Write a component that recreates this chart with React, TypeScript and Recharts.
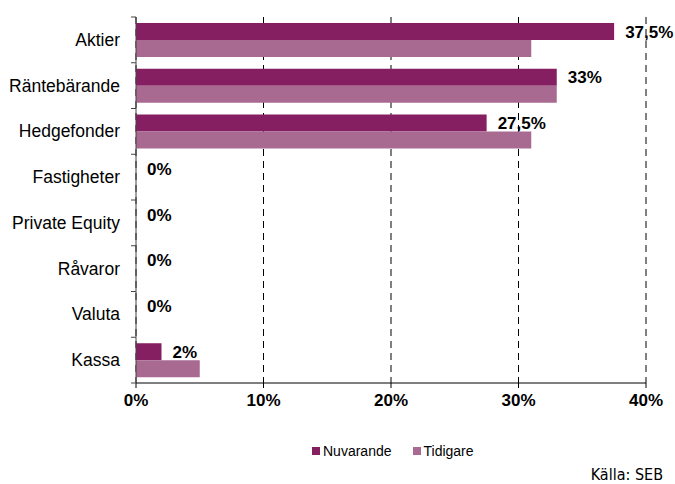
import { BarChart, Bar, XAxis, YAxis, CartesianGrid } from 'recharts'

const CATEGORIES = ['Aktier', 'Räntebärande', 'Hedgefonder', 'Fastigheter', 'Private Equity', 'Råvaror', 'Valuta', 'Kassa']
const NUVARANDE = [37.5, 33, 27.5, 0, 0, 0, 0, 2]
const TIDIGARE = [31, 33, 31, 0, 0, 0, 0, 5]
const X_TICKS = [0, 10, 20, 30, 40]
const SERIES = [
  { key: 'nuvarande', name: 'Nuvarande', color: '#861e62' },
  { key: 'tidigare', name: 'Tidigare', color: '#a96a91' },
]

const data = CATEGORIES.map((c, i) => ({ category: c, nuvarande: NUVARANDE[i], tidigare: TIDIGARE[i] }))

const FONT = 'Arial, "Liberation Sans", sans-serif'
const BAND = 366 / CATEGORIES.length

function CategoryTick(props: any) {
  const { y, payload, index } = props
  const axisX = 136
  return (
    <g>
      <line x1={axisX - 5} x2={axisX} y1={y - BAND / 2} y2={y - BAND / 2} stroke="#444" />
      {index === CATEGORIES.length - 1 && (
        <line x1={axisX - 5} x2={axisX} y1={y + BAND / 2} y2={y + BAND / 2} stroke="#444" />
      )}
      <text x={axisX - 16} y={y} dy={6} textAnchor="end" fontSize={17.5} fill="#000" fontFamily={FONT}>
        {payload.value}
      </text>
    </g>
  )
}

// bar shape that also writes the value label, so zero-width bars still get "0%"
function LabelledBar(props: any) {
  const { x, y, width, height, fill, value } = props
  const v = Array.isArray(value) ? value[1] - value[0] : value
  return (
    <g>
      {width > 0 && <rect x={x} y={y} width={width} height={height} fill={fill} />}
      <text
        x={x + width + 11}
        y={y + height / 2}
        dy={6}
        fontSize={17}
        fontWeight="bold"
        fill="#000"
        fontFamily={FONT}
      >
        {`${String(v).replace('.', ',')}%`}
      </text>
    </g>
  )
}

export default function App() {
  return (
    <div style={{ position: 'absolute', left: 0, top: 0, width: 675, height: 484, background: '#fff' }}>
      <BarChart
        width={675}
        height={484}
        data={data}
        layout="vertical"
        margin={{ top: 17, right: 29, bottom: 0, left: 0 }}
        barGap={0}
      >
        <CartesianGrid horizontal={false} stroke="#000" strokeDasharray="7 5" />
        <XAxis
          type="number"
          domain={[0, 40]}
          ticks={X_TICKS}
          tickFormatter={(v: number) => `${v}%`}
          height={101}
          stroke="#000"
          tickSize={5}
          tickMargin={6}
          tick={{ fontSize: 17, fontWeight: 'bold', fill: '#000', fontFamily: FONT }}
        />
        <YAxis
          type="category"
          dataKey="category"
          width={136}
          stroke="#444"
          tickLine={false}
          tick={<CategoryTick />}
          interval={0}
        />
        <Bar
          dataKey="nuvarande"
          name="Nuvarande"
          fill={SERIES[0].color}
          barSize={17}
          shape={<LabelledBar />}
          isAnimationActive={false}
        />
        <Bar dataKey="tidigare" name="Tidigare" fill={SERIES[1].color} barSize={17} isAnimationActive={false} />
      </BarChart>
      <div
        style={{
          position: 'absolute',
          top: 443,
          left: 312,
          display: 'flex',
          fontFamily: FONT,
          fontSize: 14,
          color: '#000',
        }}
      >
        {SERIES.map((s) => (
          <div key={s.key} style={{ display: 'flex', alignItems: 'center', marginRight: 21 }}>
            <span style={{ width: 8, height: 8, background: s.color, marginRight: 3, display: 'inline-block' }} />
            {s.name}
          </div>
        ))}
      </div>
      <div
        style={{
          position: 'absolute',
          right: 12,
          top: 465,
          fontFamily: '"Liberation Sans Narrow", "DejaVu Sans Condensed", sans-serif',
          fontSize: 16,
          color: '#000',
        }}
      >
        Källa: SEB
      </div>
    </div>
  )
}
